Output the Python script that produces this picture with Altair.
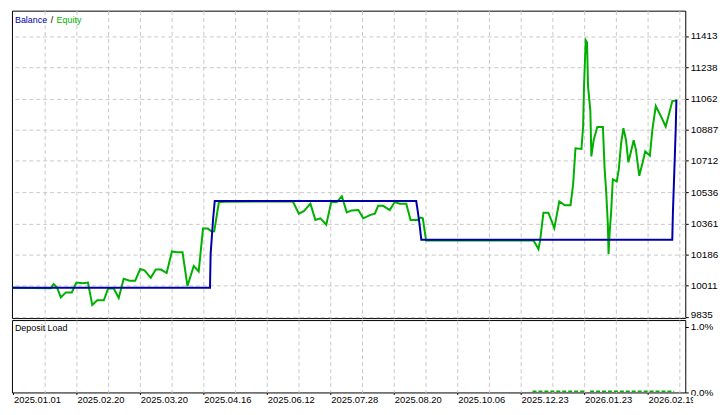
import altair as alt
import pandas as pd

FONT = "Liberation Sans"
GREEN = "#00b000"
BLUE = "#0000a8"
GRID = "#c8c8c8"

# x axis: position index (one unit per grid cell), labelled every second cell
x_label_pos = [0, 2, 4, 6, 8, 10, 12, 14, 16, 18, 20]
x_labels = ["2025.01.01", "2025.02.20", "2025.03.20", "2025.04.16", "2025.06.12",
            "2025.07.28", "2025.08.20", "2025.10.06", "2025.12.23", "2026.01.23", "2026.02.19"]
x_grid = list(range(1, 22))

# y ticks of the balance/equity panel
y_ticks = [9835, 10011, 10186, 10361, 10536, 10712, 10887, 11062, 11238, 11413]
y_domain = [9830, 11555]

# balance series
bal_u = [0.0, 6.21, 6.23, 6.27, 6.31, 6.36, 12.71, 12.76, 12.81, 12.87,
         20.78, 20.80, 20.83, 20.86, 20.89, 20.91]
bal_v = [10000, 10000, 10189, 10290, 10390, 10487, 10487, 10427, 10363, 10270,
         10270, 10423, 10580, 10737, 10898, 11055]

# equity series
eq_u = [0.0, 1.198, 1.281, 1.385, 1.510, 1.667, 1.854, 2.0, 2.188, 2.365,
        2.5, 2.656, 2.865, 3.0, 3.177, 3.333, 3.490, 3.677, 3.854, 4.01,
        4.146, 4.344, 4.5, 4.667, 4.844, 5.010, 5.156, 5.344, 5.5, 5.698,
        5.854, 5.990, 6.146, 6.25, 6.344, 6.490, 6.667, 8.823, 9.010, 9.167,
        9.375, 9.531, 9.688, 9.875, 10.031, 10.208, 10.365, 10.521, 10.677, 10.885,
        11.042, 11.25, 11.406, 11.51, 11.667, 11.875, 12.031, 12.188, 12.396, 12.531,
        12.76, 12.844, 12.917, 13.021, 16.406, 16.49, 16.563, 16.615, 16.719, 16.875,
        17.063, 17.219, 17.396, 17.573, 17.656, 17.729, 17.917, 17.969, 18.0, 18.052,
        18.094, 18.125, 18.198, 18.229, 18.302, 18.417, 18.594, 18.646, 18.698, 18.75,
        18.771, 18.802, 18.854, 18.906, 19.031, 19.094, 19.167, 19.24, 19.323, 19.396,
        19.479, 19.563, 19.635, 19.74, 19.844, 19.927, 20.073, 20.156, 20.26, 20.417,
        20.573, 20.677, 20.781, 20.906]
eq_v = [10000, 9998, 10021, 10003, 9946, 9974, 9974, 10029, 10025, 10029,
        9903, 9930, 9930, 9996, 9996, 9943, 10050, 10040, 10040, 10105,
        10098, 10056, 10102, 10102, 10083, 10204, 10200, 10200, 10010, 10122,
        10092, 10332, 10332, 10317, 10317, 10480, 10483, 10484, 10416, 10430,
        10472, 10381, 10390, 10354, 10481, 10481, 10514, 10423, 10434, 10436,
        10390, 10408, 10416, 10460, 10460, 10436, 10481, 10472, 10472, 10381,
        10381, 10394, 10390, 10265, 10265, 10240, 10217, 10266, 10421, 10421,
        10335, 10485, 10463, 10463, 10582, 10783, 10779, 10902, 11139, 11389,
        11376, 11130, 10993, 10737, 10828, 10902, 10902, 10673, 10536, 10354,
        10189, 10299, 10427, 10609, 10597, 10664, 10810, 10896, 10828, 10704,
        10765, 10828, 10774, 10628, 10701, 10765, 10741, 10892, 11020, 10965,
        10905, 10975, 11048, 11051]

# deposit load (%)
load_u = [16.375, 18.0, 18.19, 20.84]
load_v = [0.02, 0.02, 0.02, 0.02]
load_seg = [1, 1, 2, 2]

bal_df = pd.DataFrame({"u": bal_u, "v": bal_v, "i": range(len(bal_u))})
eq_df = pd.DataFrame({"u": eq_u, "v": eq_v, "i": range(len(eq_u))})
load_df = pd.DataFrame({"u": load_u, "v": load_v, "seg": load_seg})
lab_df = pd.DataFrame({"u": x_label_pos, "t": x_labels})

W = 679
H1 = 310
H2 = 73
XMIN, XMAX = -0.03125, 21.19
xscale = alt.Scale(domain=[XMIN, XMAX], nice=False, zero=False)

grid_x_axis = alt.Axis(values=x_grid, labels=False, ticks=False, domain=False, grid=True,
                       gridDash=[4, 3], gridColor=GRID, gridWidth=1, title=None)

top_y_axis = alt.Axis(orient="right", values=y_ticks, format="d", grid=True, gridDash=[4, 3],
                      gridColor=GRID, gridWidth=1, ticks=True, tickSize=3, tickColor="black",
                      domain=False, labelFont=FONT, labelFontSize=10, labelColor="black",
                      labelPadding=2, title=None,
                      labelBaseline={"condition": {"test": "datum.value == 9835", "value": "alphabetic"},
                                     "value": "middle"})

ytop = alt.Scale(domain=y_domain, nice=False, zero=False)

bal_line = alt.Chart(bal_df).mark_line(color=BLUE, strokeWidth=2).encode(
    x=alt.X("u:Q", scale=xscale, axis=grid_x_axis),
    y=alt.Y("v:Q", scale=ytop, axis=top_y_axis),
    order="i:Q",
)
eq_line = alt.Chart(eq_df).mark_line(color=GREEN, strokeWidth=2).encode(
    x=alt.X("u:Q", scale=xscale, axis=grid_x_axis),
    y=alt.Y("v:Q", scale=ytop, axis=top_y_axis),
    order="i:Q",
)

one = pd.DataFrame({"k": [0]})
leg1 = alt.Chart(one).mark_text(text="Balance", align="left", baseline="middle", font=FONT,
                                fontSize=9, color=BLUE).encode(x=alt.value(3), y=alt.value(9))
leg2 = alt.Chart(one).mark_text(text="/", align="left", baseline="middle", font=FONT,
                                fontSize=9, color="black").encode(x=alt.value(39), y=alt.value(9))
leg3 = alt.Chart(one).mark_text(text="Equity", align="left", baseline="middle", font=FONT,
                                fontSize=9, color=GREEN).encode(x=alt.value(45), y=alt.value(9))

top = alt.layer(eq_line, bal_line, leg1, leg2, leg3).properties(width=W, height=H1)

bot_y_axis = alt.Axis(orient="right", values=[0, 1], labelExpr="format(datum.value, '.1f') + '%'",
                      grid=False, ticks=True, tickSize=3, tickColor="black", domain=False,
                      labelFont=FONT, labelFontSize=10, labelColor="black", labelPadding=2, title=None)

load_line = alt.Chart(load_df).mark_line(color=GREEN, strokeWidth=1.5, strokeDash=[4, 2]).encode(
    x=alt.X("u:Q", scale=xscale, axis=grid_x_axis),
    y=alt.Y("v:Q", scale=alt.Scale(domain=[0, 1.1], nice=False, zero=False), axis=bot_y_axis),
    detail="seg:N",
)
dl_text = alt.Chart(one).mark_text(text="Deposit Load", align="left", baseline="middle", font=FONT,
                                   fontSize=9, color="black").encode(x=alt.value(3), y=alt.value(8))

bottom = alt.layer(load_line, dl_text).properties(width=W, height=H2)

SW = W + 8
strip_scale = alt.Scale(domain=[XMIN, XMIN + (XMAX - XMIN) * SW / W], nice=False, zero=False)
strip = alt.Chart(lab_df).mark_text(align="left", baseline="middle", dx=1, font=FONT, fontSize=9.5,
                                    color="black", clip=True).encode(
    x=alt.X("u:Q", scale=strip_scale,
            axis=alt.Axis(orient="top", values=x_label_pos, labels=False, ticks=True, tickSize=2,
                          tickColor="black", domain=False, grid=False, title=None)),
    y=alt.value(6),
    text="t:N",
).properties(width=SW, height=12, view=alt.ViewBackground(stroke="transparent"))

chart = alt.vconcat(top, bottom, strip, spacing=2, bounds="flush").properties(
    padding={"left": 0, "top": 0, "right": 0, "bottom": 0}, background="white"
).configure_view(stroke="black", strokeWidth=1, fill="white")

chart.save("out.html", embed_options={"renderer": "svg", "actions": False})
